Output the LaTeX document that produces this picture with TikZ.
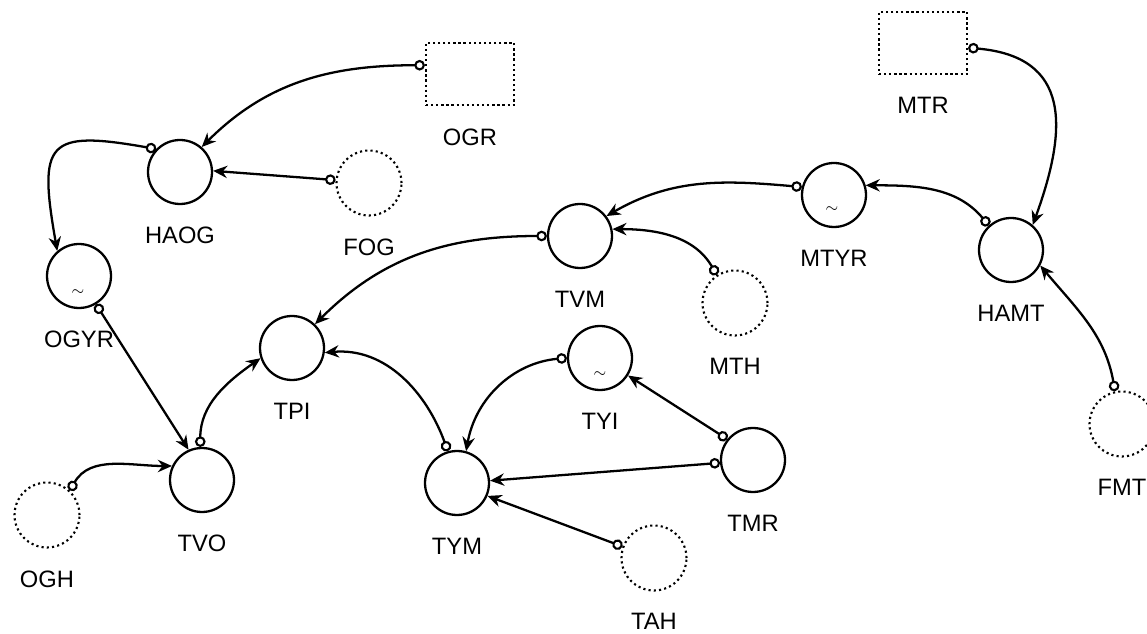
\documentclass[tikz,border=0pt]{standalone}
\usepackage{fontspec}
\setmainfont{Liberation Sans}
\usetikzlibrary{arrows.meta,positioning}

\begin{document}
\begin{tikzpicture}[x=0.02cm,y=0.02cm,
  conv/.style={draw,circle,line width=1.3pt,minimum size=1.28cm,inner sep=0pt},
  ghost/.style={draw,circle,line width=1.2pt,dash pattern=on 1.2pt off 1.8pt,minimum size=1.3cm,inner sep=0pt},
  stock/.style={draw,rectangle,line width=1.3pt,dash pattern=on 1.3pt off 1.6pt,minimum width=1.76cm,minimum height=1.25cm,inner sep=0pt},
  lbl/.style={font=\fontsize{13.5}{16}\selectfont,inner sep=3pt},
  tld/.style={font=\small,inner sep=0pt},
  link/.style={line width=1.3pt,{Circle[open,length=6pt,line width=1.2pt]}-{Stealth[length=8pt,width=7pt]}}]
\useasboundingbox (0,0) rectangle (1147,633);
\clip (0,0) rectangle (1147,633);

% stocks (external) and ghosts
\node[stock] (OGR) at (470,559) {};
\node[stock] (MTR) at (923,590) {};
\node[ghost] (FOG) at (369,450) {};
\node[ghost] (MTH) at (735,330) {};
\node[ghost] (OGH) at (47,118) {};
\node[ghost] (TAH) at (654,75) {};
\node[ghost] (FMT) at (1122,209) {};

% converters
\node[conv] (HAOG) at (180,461) {};
\node[conv] (OGYR) at (79,357) {};
\node[conv] (TVM) at (580,397) {};
\node[conv] (MTYR) at (834,438) {};
\node[conv] (HAMT) at (1011,383) {};
\node[conv] (TPI) at (292,285) {};
\node[conv] (TVO) at (202,153) {};
\node[conv] (TYM) at (457,150) {};
\node[conv] (TYI) at (600,275) {};
\node[conv] (TMR) at (753,173) {};

\node[tld] (tOGYR) at (78,340) {$\sim$};
\node[tld] (tMTYR) at (832,423) {$\sim$};
\node[tld] (tTYI) at (600,258) {$\sim$};

% names
\foreach \n in {OGR,MTR,FOG,MTH,OGH,TAH,FMT,HAOG,OGYR,TVM,MTYR,HAMT,TPI,TVO,TYM,TYI,TMR}
  \node[lbl,below=0.33cm of \n] (l\n) {\n};

% connectors
\draw[link] (OGR.169) to[out=180,in=45] (HAOG.49);
\draw[link] (FOG.175) -- (HAOG.2);
\draw[link] (HAOG.136) to[out=170,in=100,looseness=2] (OGYR.131);
\draw[link] (OGYR.-59) -- (TVO.114);
\draw[link] (OGH.47) to[out=60,in=180] (TVO.155);
\draw[link] (TVO.93) to[out=90,in=215] (TPI.198);
\draw[link] (TYM.106) to[out=110,in=5] (TPI.352);
\draw[link] (TVM.180) to[out=180,in=45] (TPI.46);
\draw[link] (MTYR.166) to[out=175,in=30] (TVM.37);
\draw[link] (MTH.123) to[out=120,in=0] (TVM.12);
\draw[link] (HAMT.132) to[out=130,in=0] (MTYR.17);
\draw[link] (MTR.-6) to[out=-5,in=70,looseness=1.4] (HAMT.49);
\draw[link] (FMT.102) to[out=100,in=-50] (HAMT.-28);
\draw[link] (TYI.180) to[out=185,in=80] (TYM.74);
\draw[link] (TMR.141) -- (TYI.-32);
\draw[link] (TMR.185) -- (TYM.4);
\draw[link] (TAH.160) -- (TYM.-23);

\end{tikzpicture}
\end{document}
